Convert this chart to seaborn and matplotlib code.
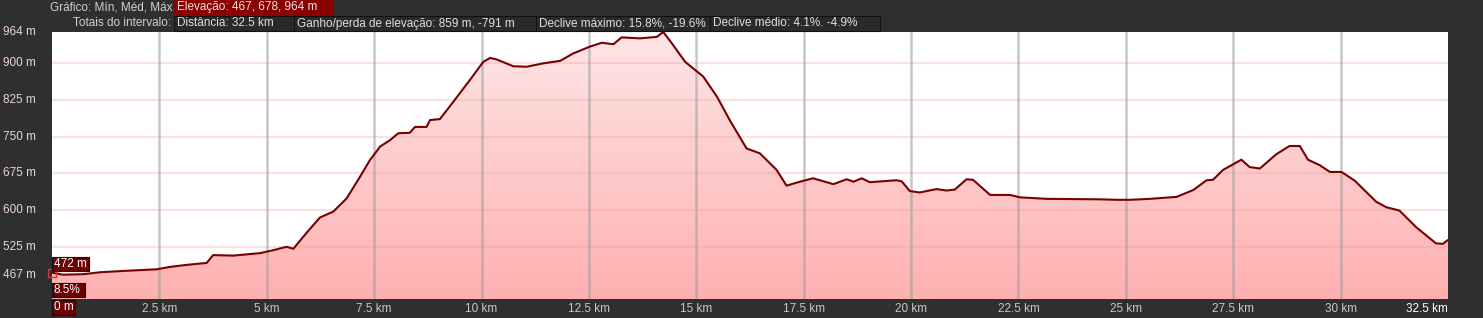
import numpy as np
import pandas as pd
import matplotlib
matplotlib.use("Agg")
import matplotlib.pyplot as plt
from matplotlib.patches import Rectangle, Polygon
from matplotlib.colors import LinearSegmentedColormap
import seaborn as sns

# ---- data ----
distance_km = [0.0, 0.26, 0.73, 1.12, 1.74, 2.44, 2.75, 3.13, 3.6, 3.75, 4.22, 4.84, 5.15,
               5.46, 5.62, 5.93, 6.24, 6.55, 6.86, 7.17, 7.40, 7.64, 7.87, 8.06, 8.33, 8.45,
               8.72, 8.80, 9.03, 9.34, 9.73, 10.04, 10.2, 10.35, 10.74, 11.05, 11.44, 11.83,
               12.13, 12.52, 12.80, 13.07, 13.26, 13.69, 14.08, 14.23, 14.43, 14.74, 15.16,
               15.48, 15.79, 16.17, 16.48, 16.87, 17.10, 17.41, 17.72, 18.19, 18.5, 18.66,
               18.85, 19.04, 19.35, 19.66, 19.78, 19.97, 20.2, 20.59, 20.82, 21.02, 21.29,
               21.44, 21.84, 22.3, 22.54, 23.16, 24.4, 24.79, 25.1, 25.56, 26.18, 26.57,
               26.88, 27.03, 27.26, 27.69, 27.88, 28.12, 28.5, 28.81, 29.05, 29.24, 29.51,
               29.75, 30.02, 30.21, 30.33, 30.83, 31.06, 31.37, 31.76, 32.22, 32.38, 32.5]
elevation_m = [472, 468, 469, 473, 476, 479, 484, 488, 492, 508, 507, 512, 518,
               525, 521, 554, 585, 597, 624, 668, 702, 730, 743, 757, 758, 770,
               770, 784, 786, 821, 866, 903, 911, 908, 894, 893, 900, 905,
               920, 934, 942, 939, 953, 951, 954, 964, 941, 903, 873,
               832, 782, 726, 716, 682, 650, 658, 665, 653, 663, 658,
               665, 657, 659, 661, 659, 639, 636, 643, 640, 642, 663,
               662, 631, 631, 626, 623, 622, 621, 621, 623, 627, 641,
               661, 662, 682, 703, 688, 685, 714, 731, 731, 703, 692,
               678, 678, 667, 660, 617, 606, 599, 565, 532, 531, 539]
ytick_values = [467, 525, 600, 675, 750, 825, 900, 964]
ygrid_values = [525, 600, 675, 750, 825, 900]
xtick_values = [2.5, 5, 7.5, 10, 12.5, 15, 17.5, 20, 22.5, 25, 27.5, 30]
header_row1_label = "Gráfico: Mín, Méd, Máx"
header_row1_box = "Elevação: 467, 678, 964 m"
header_row2_label = "Totais do intervalo:"
header_row2_boxes = ["Distância: 32.5 km", "Ganho/perda de elevação: 859 m, -791 m",
                     "Declive máximo: 15.8%, -19.6%", "Declive médio: 4.1%. -4.9%"]
start_label = "472 m"
grade_label = "8.5%"
zero_label = "0 m"
end_label = "32.5 km"

df = pd.DataFrame({"km": distance_km, "m": elevation_m})

sns.set_theme(style="white")
plt.rcParams["font.family"] = ["Liberation Sans", "DejaVu Sans"]
FS = 8.5

W, H = 1483, 318
BG = "#2f2f2f"
fig = plt.figure(figsize=(W / 100, H / 100), dpi=100, facecolor=BG)
L, R, T, B = 52, 1448, 32, 299
ax = fig.add_axes([L / W, 1 - B / H, (R - L) / W, (B - T) / H])
ax.set_facecolor("white")
XMIN, XMAX = 0, 32.5
YMIN, YMAX = 418.3, 964
ax.set_xlim(XMIN, XMAX)
ax.set_ylim(YMIN, YMAX)

# gradient fill under the line
grad = np.linspace(0, 1, 256).reshape(-1, 1)
cmap = LinearSegmentedColormap.from_list("pinkgrad", ["#ffb0b0", "#fde6e6"])
img = ax.imshow(grad, aspect="auto", cmap=cmap, origin="lower",
                extent=[XMIN, XMAX, YMIN, YMAX], zorder=1)
verts = np.vstack([np.column_stack([df["km"], df["m"]]),
                   [[XMAX, YMIN], [XMIN, YMIN]]])
clip = Polygon(verts, closed=True, transform=ax.transData, facecolor="none", edgecolor="none")
ax.add_patch(clip)
img.set_clip_path(clip)

# grid
for yv in ygrid_values:
    ax.axhline(yv, color="#e89a9a", alpha=0.28, lw=1.6, zorder=2)
for xv in xtick_values:
    ax.axvline(xv, color="#9a9a9a", alpha=0.55, lw=1.8, zorder=2)

sns.lineplot(data=df, x="km", y="m", ax=ax, color="#7a0000", lw=1.5, zorder=4)

ax.set_xticks([])
ax.set_yticks([])
ax.set_xlabel("")
ax.set_ylabel("")
for s in ax.spines.values():
    s.set_visible(False)

# start marker
ax.plot([0], [472], marker="s", ms=6, mfc="none", mec="#e03030", mew=1, zorder=5, clip_on=False)

# y labels
for yv in ytick_values:
    ypx = T + (YMAX - yv) / (YMAX - YMIN) * (B - T)
    fig.text(3 / W, 1 - ypx / H, f"{yv} m", color="#ead6d6", fontsize=FS,
             ha="left", va="center")

# x labels
for xv in xtick_values:
    xpx = L + (xv - XMIN) / (XMAX - XMIN) * (R - L)
    fig.text(xpx / W, 1 - 309 / H, f"{xv:g} km", color="#c8c8c8", fontsize=FS,
             ha="center", va="center")
fig.text(R / W, 1 - 309 / H, end_label, color="#ffffff", fontsize=FS, ha="right", va="center")

def box(x0, y0, x1, y1, text, fc, ec="#111111", tc="#e6e6e6", pad=4):
    fig.patches.append(Rectangle((x0 / W, 1 - y1 / H), (x1 - x0) / W, (y1 - y0) / H,
                                 transform=fig.transFigure, facecolor=fc, edgecolor=ec,
                                 lw=0.8, zorder=5))
    fig.text((x0 + pad) / W, 1 - ((y0 + y1) / 2) / H, text, color=tc, fontsize=FS,
             ha="left", va="center", zorder=6)

# header
fig.text(172 / W, 1 - 7 / H, header_row1_label, color="#d0d0d0", fontsize=FS, ha="right", va="center")
box(174, 0, 332, 14, header_row1_box, "#8a0000", ec="#8a0000", tc="#f0e0e0", pad=3)
fig.text(171 / W, 1 - 23 / H, header_row2_label, color="#d0d0d0", fontsize=FS, ha="right", va="center")
edges = [174, 294, 536, 710, 880]
for i, t in enumerate(header_row2_boxes):
    box(edges[i], 16, edges[i + 1], 31, t, "#2a2a2a", ec="#111111", tc="#e0e0e0", pad=3)

# value boxes at left
box(52, 257, 89, 271, start_label, "#6e0000", ec="#111111", tc="#ffffff", pad=2)
box(52, 283, 85, 297, grade_label, "#6e0000", ec="#111111", tc="#ffffff", pad=2)
box(52, 300, 75, 315, zero_label, "#6e0000", ec="#111111", tc="#ffffff", pad=2)

fig.savefig("out.png", dpi=100, facecolor=BG)
